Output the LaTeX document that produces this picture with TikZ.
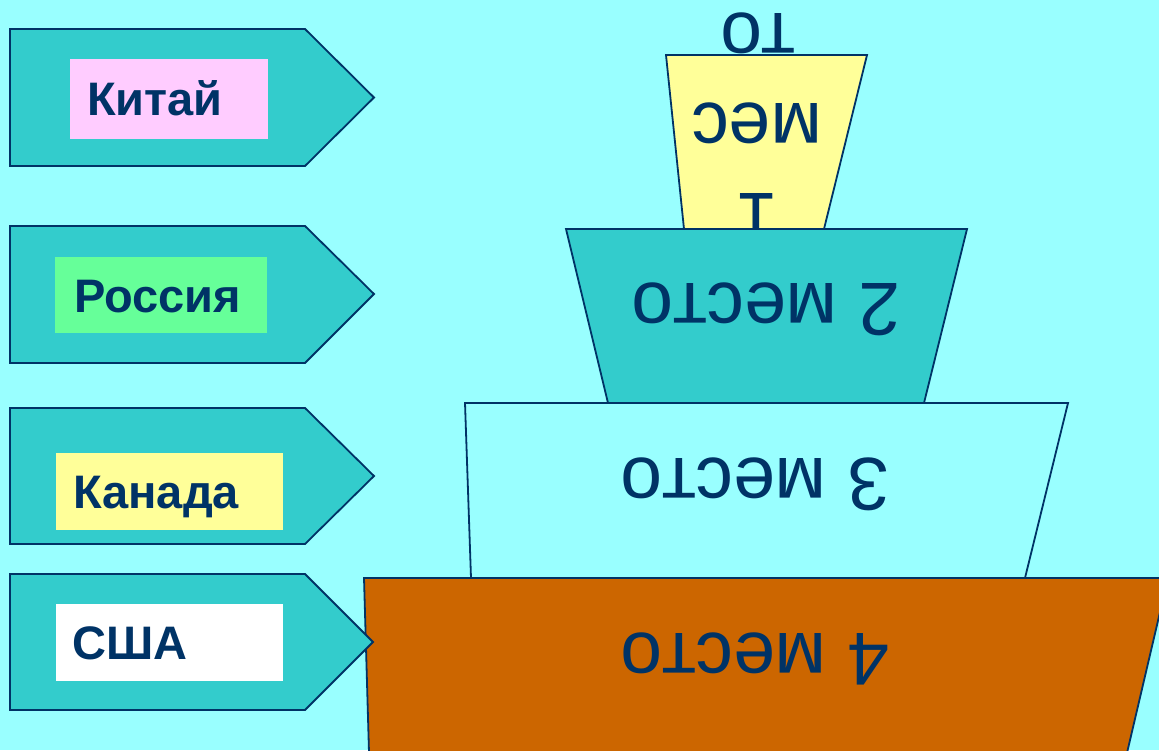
\documentclass[tikz,border=0pt]{standalone}
\usepackage{fontspec}
\setmainfont{Liberation Sans}
\definecolor{bgc}{HTML}{99FFFF}
\definecolor{tealc}{HTML}{33CCCC}
\definecolor{navyc}{HTML}{003366}
\definecolor{orangec}{HTML}{CC6600}
\definecolor{yellowc}{HTML}{FFFF99}
\definecolor{pinkc}{HTML}{FFCCFF}
\definecolor{greenc}{HTML}{66FF99}
\tikzset{
  outl/.style={draw=navyc, line width=1.8pt, line join=miter},
  tier/.style={outl},
  sign/.style={outl, fill=tealc},
  bigtxt/.style={text=navyc, inner sep=0pt, rotate=180, anchor=base, font=\fontsize{75}{90}\selectfont},
  lblbox/.style={anchor=north west, inner sep=0pt, draw=none},
  lbltxt/.style={text=navyc, inner sep=0pt, anchor=base west, font=\fontsize{47}{56}\selectfont\bfseries},
}
\begin{document}
\begin{tikzpicture}[x=1pt,y=-1pt]
\fill[bgc] (0,0) rectangle (1159,750);
\useasboundingbox (0,0) rectangle (1159,750);
\clip (0,0) rectangle (1159,750);

% tier 1
\draw[tier, fill=yellowc] (666,55) -- (867,55) -- (824,229) -- (684,229) -- cycle;
\node[bigtxt] (p1a) at (758,193) {1};
\node[bigtxt] (p1b) at (757,103) {мес};
\node[bigtxt] (p1c) at (758,13) {то};
% tier 2
\draw[tier, fill=tealc] (566,229) -- (967,229) -- (924,403) -- (608,403) -- cycle;
\node[bigtxt] (p2) at (766,283) {2 место};
% tier 3
\draw[tier, fill=bgc] (465,403) -- (1068,403) -- (1025,578) -- (471,578) -- cycle;
\node[bigtxt] (p3) at (755,458) {3 место};
% tier 4
\draw[tier, fill=orangec] (364,578) -- (1168,578) -- (1123,770) -- (369.5,770) -- cycle;
\node[bigtxt] (p4) at (755,633) {4 место};

% signs
\draw[sign] (10,29) -- (305,29) -- (374,97.5) -- (305,166) -- (10,166) -- cycle;
\draw[sign] (10,226) -- (305,226) -- (374,294) -- (305,363) -- (10,363) -- cycle;
\draw[sign] (10,408) -- (305,408) -- (374,476) -- (305,544) -- (10,544) -- cycle;
\draw[sign] (10,574) -- (305,574) -- (373,642) -- (305,710) -- (10,710) -- cycle;

% label boxes
\node[lblbox, fill=pinkc, minimum width=198pt, minimum height=80pt] (chinabox) at (70,59) {};
\node[lbltxt] (china) at (87,115) {Китай};
\node[lblbox, fill=greenc, minimum width=212pt, minimum height=76pt] (russiabox) at (55,257) {};
\node[lbltxt] (russia) at (74,312) {Россия};
\node[lblbox, fill=yellowc, minimum width=227pt, minimum height=77pt] (canadabox) at (56,453) {};
\node[lbltxt] (canada) at (73,508) {Канада};
\node[lblbox, fill=white, minimum width=227pt, minimum height=77pt] (usabox) at (56,604) {};
\node[lbltxt] (usa) at (72,659) {США};
\end{tikzpicture}
\end{document}
